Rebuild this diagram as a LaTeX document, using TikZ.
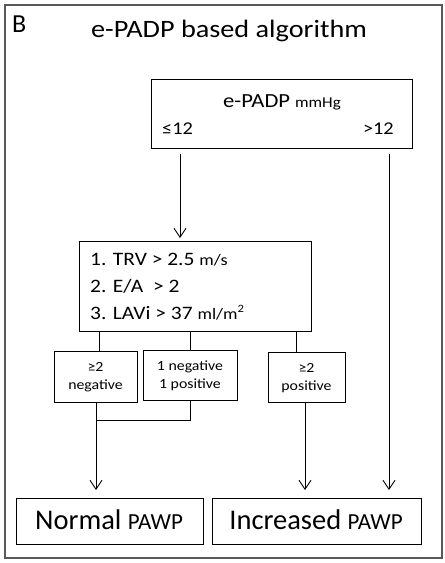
\documentclass[tikz,border=0pt]{standalone}
\usepackage{fontspec}
\setmainfont{Carlito}
\newfontfamily\widefont[FakeStretch=1.13]{Carlito}
\usetikzlibrary{arrows.meta}
\begin{document}
\begin{tikzpicture}[x=1pt,y=-1pt,
  box/.style={draw=black,line width=0.9pt,rectangle,inner sep=0pt},
  conn/.style={draw=black,line width=0.9pt},
  arr/.style={conn,-{Straight Barb[length=9pt,width=12pt,line width=0.9pt]}},
  txt/.style={inner sep=0pt},
  subtxt/.style={font=\widefont\fontsize{14}{18.3}\selectfont,align=center,inner sep=0pt}]
\useasboundingbox (0,0) rectangle (445,563);
\fill[white] (0,0) rectangle (445,563);
\node[draw=black!65,line width=1.8pt,rectangle,minimum width=437pt,minimum height=553pt,inner sep=0pt] (frame) at (223.5,281.5) {};
\node[txt,anchor=base west,font=\fontsize{26}{30}\selectfont] (lbl) at (12,32) {B};
\node[txt,anchor=base,font=\widefont\fontsize{25}{30}\selectfont] (title) at (229,37) {e-PADP based algorithm};
% top box
\node[box,minimum width=261pt,minimum height=69pt] (top) at (281.5,113.5) {};
\node[txt,anchor=base,font=\widefont\fontsize{20}{24}\selectfont] (toptxt) at (282,107) {e-PADP {\fontsize{15}{18}\selectfont mmHg}};
\node[txt,anchor=base west,font=\widefont\fontsize{18}{22}\selectfont] (le) at (162,134) {≤12};
\node[txt,anchor=base east,font=\widefont\fontsize{18}{22}\selectfont] (gt) at (394,134) {>12};
% criteria box
\node[box,minimum width=232pt,minimum height=90pt] (crit) at (195,286) {};
\node[txt,anchor=base west,font=\widefont\fontsize{19}{22}\selectfont] (c1) at (90,265.5) {1. TRV > 2.5 {\fontsize{16}{18}\selectfont m/s}};
\node[txt,anchor=base west,font=\widefont\fontsize{19}{22}\selectfont] (c2) at (90,292.5) {2. E/A~ > 2};
\node[txt,anchor=base west,font=\widefont\fontsize{19}{22}\selectfont] (c3) at (90,319) {3. LAVi > 37 {\fontsize{16}{18}\selectfont ml/m\textsuperscript{2}}};
% sub boxes
\node[box,minimum width=83pt,minimum height=51pt] (s1) at (95.5,376.5) {};
\node[subtxt] (t1) at (95.5,377.5) {≥2\\negative};
\node[box,minimum width=94pt,minimum height=50pt] (s2) at (190,375) {};
\node[subtxt] (t2) at (190,376) {1 negative\\1 positive};
\node[box,minimum width=77pt,minimum height=50pt] (s3) at (306.5,377) {};
\node[subtxt] (t3) at (306.5,378) {≥2\\positive};
% bottom boxes
\node[box,minimum width=187pt,minimum height=46pt] (norm) at (109.5,521) {};
\node[txt,anchor=base] (normtxt) at (109,529.5) {\fontsize{28.5}{30}\selectfont Normal {\fontsize{23}{26}\selectfont PAWP}};
\node[box,minimum width=209pt,minimum height=46pt] (incr) at (316.5,521) {};
\node[txt,anchor=base] (incrtxt) at (316,529.5) {\fontsize{28.5}{30}\selectfont Increased {\fontsize{23}{26}\selectfont PAWP}};
% coordinates
\coordinate (a1) at (180,154);
\coordinate (a1e) at (180,238);
\coordinate (a2) at (389,154);
\coordinate (a2e) at (389,490);
\coordinate (j) at (96,420);
\coordinate (ne) at (96,490);
\coordinate (ie) at (305,490);
% connectors
\draw[arr] (a1) -- (a1e);
\draw[arr] (a2) -- (a2e);
\draw[conn] (crit.south -| 99,0) -- (s1.north -| 99,0);
\draw[conn] (crit.south -| s2.north) -- (s2.north);
\draw[conn] (crit.south -| 296,0) -- (s3.north -| 296,0);
\draw[conn] (s2.south) -- (s2.south |- j) -- (j);
\draw[arr] (s1.south -| j) -- (ne);
\draw[arr] (s3.south -| ie) -- (ie);
\end{tikzpicture}
\end{document}
